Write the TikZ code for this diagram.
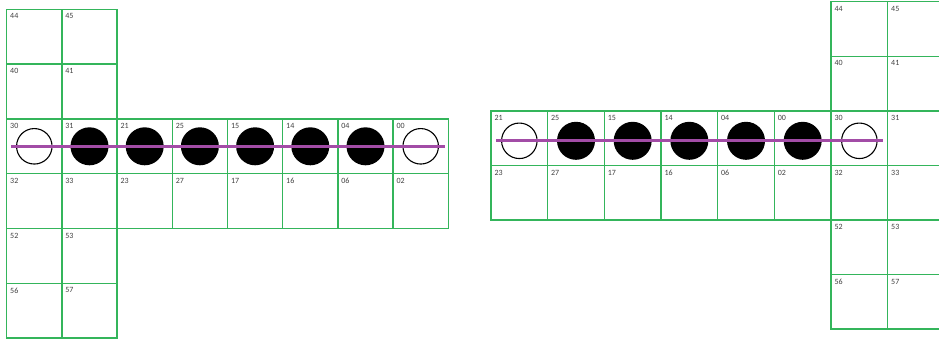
\documentclass[tikz,border=0pt]{standalone}
\usepackage{fontspec}
\setmainfont{Carlito}
\usepackage{tikz}
\usetikzlibrary{positioning}
\definecolor{vertcase}{HTML}{34B55B}
\definecolor{violet}{HTML}{A24CA6}
\definecolor{grisnum}{HTML}{404040}
\tikzset{
  case/.style={draw=vertcase, line width=1.5pt},
  numero/.style={anchor=north west, inner sep=0pt, font=\fontsize{8}{9}\selectfont,
    text=grisnum, xshift=3.3pt, yshift=-4.3pt},
  pionplein/.style={circle, fill=black, inner sep=0pt, minimum size=38pt},
  pionvide/.style={circle, draw=black, line width=1.1pt, fill=white, inner sep=0pt,
    minimum size=35.5pt},
  tige/.style={draw=violet, line width=3pt},
}
\begin{document}
\begin{tikzpicture}[x=1pt, y=-1pt]
  \useasboundingbox (0,0) rectangle (939,340);
  \clip (0,0) rectangle (939,340);

  % plateau de gauche
  \begin{scope}[xshift=6.7pt, yshift=-9.3pt, x=55.2pt, y=-54.8pt]
    \foreach \c/\r/\t in {0/0/44, 1/0/45, 0/1/40, 1/1/41,
        0/2/30, 1/2/31, 2/2/21, 3/2/25, 4/2/15, 5/2/14, 6/2/04, 7/2/00,
        0/3/32, 1/3/33, 2/3/23, 3/3/27, 4/3/17, 5/3/16, 6/3/06, 7/3/02,
        0/4/52, 1/4/53, 0/5/56, 1/5/57} {
      \draw[case] (\c,\r) rectangle +(1,1);
      \node[numero] (gn\t) at (\c,\r) {\t};
    }
    \node[pionvide] (g0) at (0.5,2.5) {};
    \foreach \i in {1,...,6}
      \node[pionplein] (g\i) at (\i+0.5,2.5) {};
    \node[pionvide] (g7) at (7.5,2.5) {};
    \draw[tige] ([xshift=-5pt]g0.west) -- ([xshift=6pt]g7.east);
  \end{scope}

  % plateau de droite
  \begin{scope}[xshift=491pt, yshift=-1.7pt, x=56.67pt, y=-54.55pt]
    \foreach \c/\r/\t in {6/0/44, 7/0/45, 6/1/40, 7/1/41,
        0/2/21, 1/2/25, 2/2/15, 3/2/14, 4/2/04, 5/2/00, 6/2/30, 7/2/31,
        0/3/23, 1/3/27, 2/3/17, 3/3/16, 4/3/06, 5/3/02, 6/3/32, 7/3/33,
        6/4/52, 7/4/53, 6/5/56, 7/5/57} {
      \draw[case] (\c,\r) rectangle +(1,1);
      \node[numero] (dn\t) at (\c,\r) {\t};
    }
    \node[pionvide] (d0) at (0.5,2.55) {};
    \foreach \i in {1,...,5}
      \node[pionplein] (d\i) at (\i+0.5,2.55) {};
    \node[pionvide] (d6) at (6.5,2.55) {};
    \draw[tige] ([xshift=-5pt]d0.west) -- ([xshift=5pt]d6.east);
  \end{scope}
\end{tikzpicture}
\end{document}
